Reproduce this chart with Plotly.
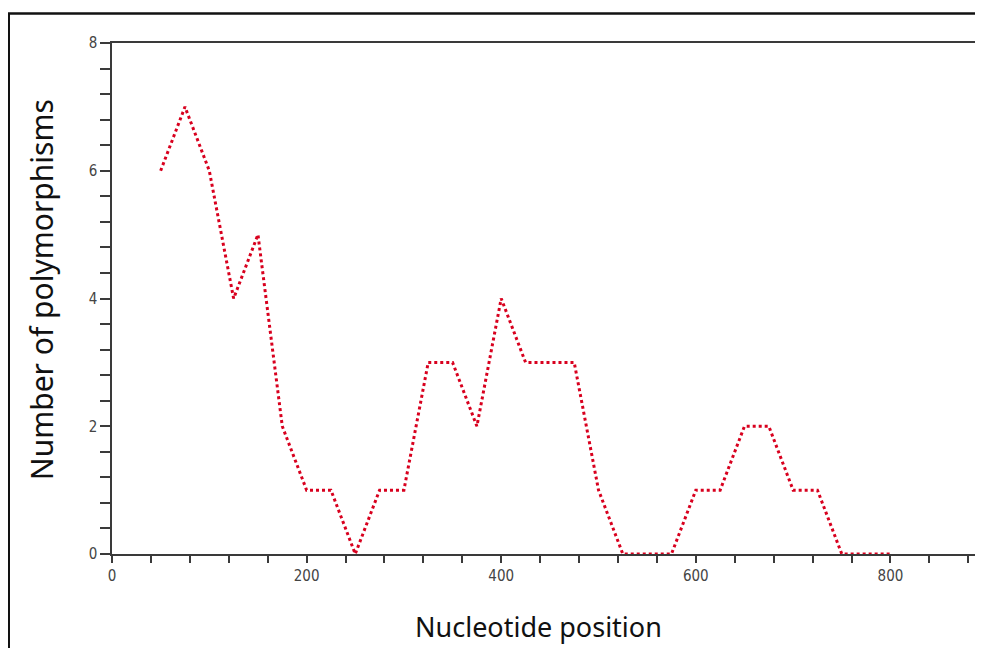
import plotly.graph_objects as go

positions = [50, 75, 100, 125, 150, 175, 200, 225, 250, 275, 300, 325, 350, 375, 400,
             425, 450, 475, 500, 525, 550, 575, 600, 625, 650, 675, 700, 725, 750, 775, 800]
polymorphisms = [6, 7, 6, 4, 5, 2, 1, 1, 0, 1, 1, 3, 3, 2, 4,
                 3, 3, 3, 1, 0, 0, 0, 1, 1, 2, 2, 1, 1, 0, 0, 0]

x_title = "Nucleotide position"
y_title = "Number of polymorphisms"

# page body has an 8px margin; compensate so the window matches the reference
OX, OY = 8, 8
W, H = 983 - OX, 648 - OY
# plot area in window pixels: x 112..980, y 43..554
ml, mr, mt, mb = 112 - OX, 983 - 980, 43 - OY, 648 - 554
pw, ph = W - ml - mr, H - mt - mb

def px2paper_x(px):
    return (px - OX - ml) / pw

def px2paper_y(py):
    return (H - mb - (py - OY)) / ph

fig = go.Figure()
fig.add_trace(go.Scatter(
    x=positions, y=polymorphisms, mode="lines",
    line=dict(color="#d8001e", width=3, dash="dot"),
    showlegend=False, hoverinfo="x+y"))

tickfont = dict(family="Liberation Sans Narrow, Arial Narrow, DejaVu Sans Condensed, sans-serif",
                size=15, color="#444444")

axis_common = dict(
    showgrid=False, zeroline=False, showline=True, mirror=True,
    linecolor="#3a3a3a", linewidth=1.5,
    ticks="outside", tickcolor="#3a3a3a", tickwidth=1.5,
    tickfont=tickfont,
)

fig.update_layout(
    width=W, height=H,
    margin=dict(l=ml, r=mr, t=mt, b=mb, pad=0),
    paper_bgcolor="white", plot_bgcolor="white",
    xaxis=dict(range=[0, 890], dtick=200, tick0=0, ticklen=7,
               minor=dict(dtick=40, ticks="outside", ticklen=7, tickcolor="#3a3a3a", tickwidth=1.5),
               **axis_common),
    yaxis=dict(range=[0, 8], dtick=2, tick0=0, ticklen=10,
               minor=dict(dtick=0.4, ticks="outside", ticklen=10, tickcolor="#3a3a3a", tickwidth=1.5),
               **axis_common),
    annotations=[
        dict(text=x_title, xref="paper", yref="paper",
             x=px2paper_x(539), y=px2paper_y(626), xanchor="center", yanchor="middle",
             showarrow=False, font=dict(family="Noto Sans", size=27, color="#111111")),
        dict(text=y_title, xref="paper", yref="paper", textangle=-90,
             x=px2paper_x(41), y=px2paper_y(290), xanchor="center", yanchor="middle",
             showarrow=False, font=dict(family="Noto Sans", size=30, color="#111111")),
    ],
    shapes=[
        dict(type="line", xref="paper", yref="paper",
             x0=px2paper_x(8.5), x1=px2paper_x(8.5), y0=px2paper_y(13), y1=px2paper_y(660),
             line=dict(color="#111111", width=2.5)),
        dict(type="line", xref="paper", yref="paper",
             x0=px2paper_x(7.5), x1=px2paper_x(990), y0=px2paper_y(13.5), y1=px2paper_y(13.5),
             line=dict(color="#111111", width=2.5)),
    ],
)

fig.write_html("out.html")
